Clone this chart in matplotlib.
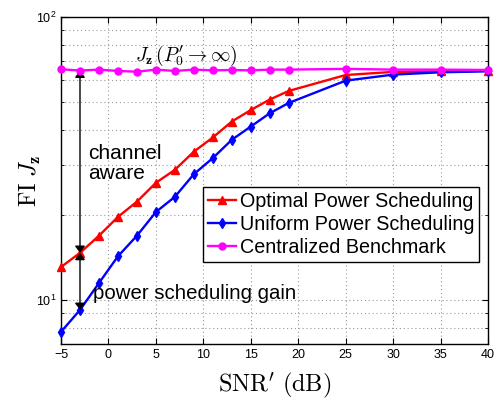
import matplotlib

matplotlib.use("Agg")
import matplotlib.pyplot as plt
from matplotlib.ticker import LogLocator, NullFormatter

plt.rcParams["font.family"] = ["Liberation Sans", "DejaVu Sans"]
plt.rcParams["mathtext.fontset"] = "cm"

snr_db = [-5, -3, -1, 1, 3, 5, 7, 9, 11, 13, 15, 17, 19, 25, 30, 35, 40]
optimal = [13.1, 14.7, 16.9, 19.7, 22.3, 26.0, 28.9, 33.5, 37.6, 42.8, 47.0, 51.2,
           54.9, 62.5, 64.1, 64.4, 64.7]
uniform = [7.73, 9.24, 11.5, 14.3, 16.9, 20.5, 23.2, 27.9, 31.8, 36.9, 41.1, 45.8,
           49.8, 59.7, 62.7, 63.9, 64.4]
centralized = [65.5, 64.8, 65.3, 64.6, 64.2, 65.3, 64.6, 65.3, 64.9, 65.1, 64.9, 65.3,
               65.3, 65.7, 65.3, 65.3, 65.1]

labels = ["Optimal Power Scheduling", "Uniform Power Scheduling", "Centralized Benchmark"]
x_ticks = [-5, 0, 5, 10, 15, 20, 25, 30, 35, 40]

fig = plt.figure(figsize=(4.94, 4.01), dpi=100)
ax = fig.add_axes([0.1235, 0.142, 0.8645, 0.815])

ax.plot(snr_db, optimal, color="red", marker="^", markersize=6, linewidth=1.7,
        label=labels[0], clip_on=False, zorder=3)
ax.plot(snr_db, uniform, color="blue", marker="d", markersize=5.5, linewidth=1.7,
        label=labels[1], clip_on=False, zorder=3)
ax.plot(snr_db, centralized, color="magenta", marker="o", markersize=5, linewidth=1.7,
        label=labels[2], clip_on=False, zorder=4)

ax.set_yscale("log")
ax.set_xlim(-5, 40)
ax.set_ylim(7, 100)
ax.set_xticks(x_ticks)
ax.yaxis.set_minor_locator(LogLocator(base=10, subs=range(2, 10)))
ax.yaxis.set_minor_formatter(NullFormatter())

ax.grid(True, which="major", linestyle=(0, (1, 2.5)), color="#999999", linewidth=0.8)
ax.grid(True, which="minor", axis="y", linestyle=(0, (1, 2.5)), color="#999999", linewidth=0.8)
ax.tick_params(which="both", direction="in", top=True, right=True, labelsize=9)
ax.tick_params(which="major", length=4)
ax.tick_params(which="minor", length=2)
for spine in ax.spines.values():
    spine.set_linewidth(1.0)

ax.set_xlabel(r"$\mathrm{SNR}'\ (\mathrm{dB})$", fontsize=17.5, labelpad=7)
ax.set_ylabel(r"$\mathrm{FI}\ J_{\mathbf{z}}$", fontsize=17, labelpad=-5)

# annotations
i = snr_db.index(-3)
ax.annotate("", xy=(-3, centralized[i]), xytext=(-3, optimal[i]),
            arrowprops=dict(arrowstyle="<|-|>,head_width=0.3", color="black", lw=1.0,
                            shrinkA=0, shrinkB=0, mutation_scale=10))
ax.annotate("", xy=(-3, optimal[i]), xytext=(-3, uniform[i]),
            arrowprops=dict(arrowstyle="<|-|>,head_width=0.3", color="black", lw=1.0,
                            shrinkA=0, shrinkB=0, mutation_scale=10))
ax.text(-2.15, 30.5, "channel\naware", fontsize=15, va="center", ha="left", linespacing=1.05)
ax.text(-1.65, 10.6, "power scheduling gain", fontsize=14.7, va="center", ha="left")
ax.text(2.8, 73, r"$J_{\mathbf{z}}\,(P_0'\rightarrow\infty)$", fontsize=14,
        va="center", ha="left")

leg = ax.legend(loc="upper left", bbox_to_anchor=(0.333, 0.481), fontsize=14.2,
                handlelength=1.4, handletextpad=0.2, borderpad=0.25, labelspacing=0.2,
                borderaxespad=0, fancybox=False, framealpha=1, edgecolor="black")
leg.get_frame().set_linewidth(1.0)

fig.savefig("out.png", dpi=100)
